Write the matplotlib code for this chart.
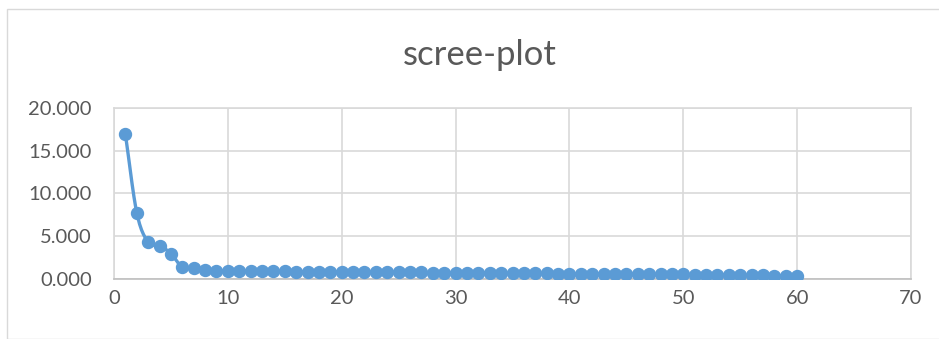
import numpy as np
import matplotlib
matplotlib.use("Agg")
import matplotlib.pyplot as plt
from matplotlib.patches import Rectangle
from matplotlib.ticker import FormatStrFormatter, MultipleLocator

plt.rcParams['font.family'] = ['Lato', 'DejaVu Sans']

components = list(range(1, 61))
eigenvalues = [16.92, 7.73, 4.30, 3.91, 2.97, 1.37, 1.25, 1.02, 0.97, 0.95,
               0.93, 0.91, 0.90, 0.89, 0.88, 0.87, 0.86, 0.85, 0.84, 0.83,
               0.82, 0.81, 0.80, 0.79, 0.78, 0.77, 0.76, 0.75, 0.74, 0.73,
               0.72, 0.71, 0.70, 0.69, 0.68, 0.67, 0.66, 0.65, 0.64, 0.63,
               0.62, 0.61, 0.60, 0.59, 0.58, 0.57, 0.56, 0.55, 0.54, 0.53,
               0.51, 0.50, 0.48, 0.47, 0.45, 0.43, 0.41, 0.39, 0.36, 0.32]
title = "scree-plot"

BLUE = "#5B9BD5"
GRID = "#D9D9D9"
TEXT = "#595959"


def smooth(x, y, n=12):
    """Catmull-Rom curve through the points, like a smoothed line chart."""
    x = np.asarray(x, float)
    y = np.asarray(y, float)
    px = np.concatenate([[2 * x[0] - x[1]], x, [2 * x[-1] - x[-2]]])
    py = np.concatenate([[2 * y[0] - y[1]], y, [2 * y[-1] - y[-2]]])
    xs, ys = [], []
    t = np.linspace(0, 1, n, endpoint=False)
    for i in range(1, len(px) - 2):
        for arr, out in ((px, xs), (py, ys)):
            p0, p1, p2, p3 = arr[i - 1], arr[i], arr[i + 1], arr[i + 2]
            out.extend(0.5 * ((2 * p1) + (-p0 + p2) * t
                              + (2 * p0 - 5 * p1 + 4 * p2 - p3) * t ** 2
                              + (-p0 + 3 * p1 - 3 * p2 + p3) * t ** 3))
    xs.append(x[-1])
    ys.append(y[-1])
    return np.array(xs), np.array(ys)


fig = plt.figure(figsize=(9.39, 3.39), dpi=100)
W, H = 939, 339
ax = fig.add_axes([114 / W, 1 - 279 / H, (911 - 114) / W, (279 - 107.7) / H])

# outer chart frame
fig.patches.append(Rectangle((7 / W, 0), 1.0, 1 - 9 / H, transform=fig.transFigure,
                             fill=False, edgecolor=GRID, linewidth=1.0))

sx, sy = smooth(components, eigenvalues)
ax.plot(sx, sy, color=BLUE, linewidth=2.4, solid_capstyle="round", zorder=3)
ax.plot(components, eigenvalues, linestyle="none", marker="o", markersize=8.6,
        color=BLUE, zorder=4)

ax.set_xlim(0, 70)
ax.set_ylim(0, 20)
ax.xaxis.set_major_locator(MultipleLocator(10))
ax.yaxis.set_major_locator(MultipleLocator(5))
ax.yaxis.set_major_formatter(FormatStrFormatter("%.3f"))
ax.grid(True, color=GRID, linewidth=1.2)
ax.set_axisbelow(True)
for side in ("top", "right", "left"):
    ax.spines[side].set_color(GRID)
    ax.spines[side].set_linewidth(1.2)
ax.spines["bottom"].set_color("#BFBFBF")
ax.spines["bottom"].set_linewidth(1.2)
ax.tick_params(length=0, labelsize=14.5, labelcolor=TEXT)
ax.tick_params(axis="x", pad=8)
ax.tick_params(axis="y", pad=16)

fig.text(480 / W, 1 - 55 / H, title, ha="center", va="center",
         fontsize=25, color=TEXT)

fig.savefig("out.png", dpi=100)
